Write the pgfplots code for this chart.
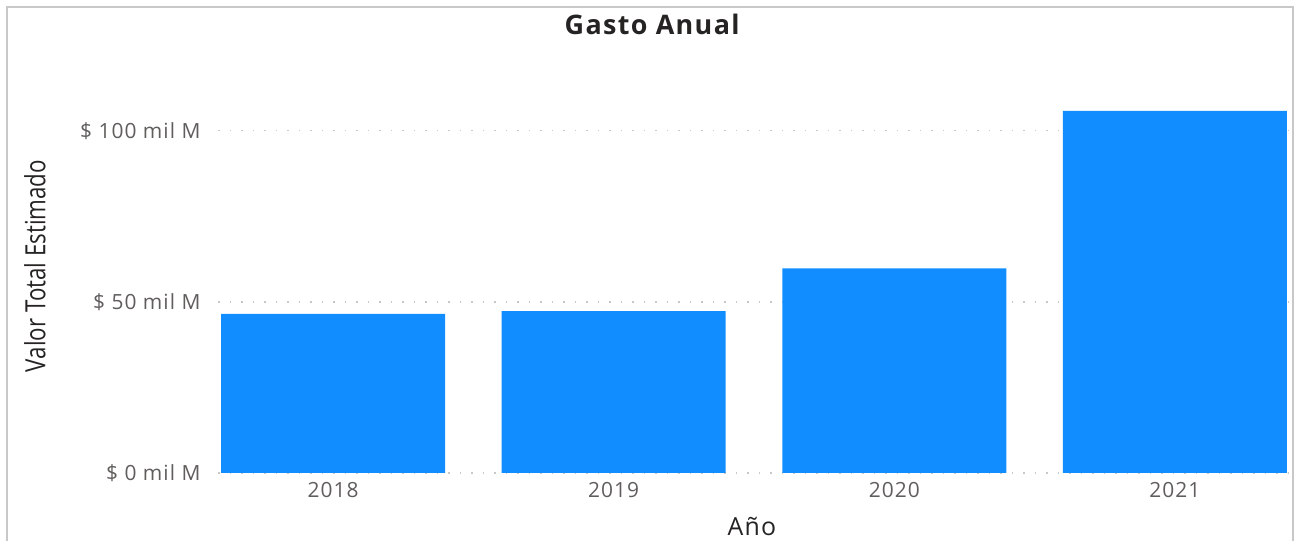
\documentclass[border=0pt]{standalone}
\usepackage{fontspec}
\setmainfont{Open Sans}
\newfontfamily\condfont[FakeStretch=0.8]{Open Sans}
\newfontfamily\widefont[LetterSpace=5]{Open Sans}
\usepackage{pgfplots}
\pgfplotsset{compat=1.18}
\definecolor{barblue}{HTML}{118DFF}
\definecolor{ticktext}{HTML}{605E5C}
\definecolor{titletext}{HTML}{252423}
\definecolor{framegray}{HTML}{C8C8C8}
\definecolor{gridgray}{HTML}{C8C8C8}
\begin{document}
\begin{tikzpicture}
\path[use as bounding box] (0bp,0bp) rectangle (1296bp,541bp);
\draw[framegray, line width=2bp] (7bp,0bp) -- (7bp,534bp) -- (1293bp,534bp) -- (1293bp,0bp);
\begin{axis}[
  at={(218bp,68bp)}, anchor=south west,
  scale only axis, width=1072bp, height=376.5bp,
  xmin=-0.41, xmax=3.41, ymin=0, ymax=110,
  axis line style={draw=none},
  major tick length=0pt,
  xtick={0,1,2,3}, xticklabels={2018,2019,2020,2021},
  ytick={0,50,100}, yticklabels={\$ 0 mil M,\$ 50 mil M,\$ 100 mil M},
  ymajorgrids,
  grid style={gridgray, line width=1.5bp, dash pattern=on 1.5bp off 10bp},
  xticklabel style={font=\widefont\fontsize{21}{25}\selectfont, color=ticktext, yshift=-6bp},
  yticklabel style={font=\widefont\fontsize{21}{25}\selectfont, color=ticktext, xshift=-14bp},
  title={Gasto Anual},
  title style={at={(axis description cs:0.405,1.176)}, anchor=center, font=\bfseries\widefont\fontsize{27}{31}\selectfont, color=titletext},
  xlabel={Año},
  xlabel style={at={(axis description cs:0.498,-0.143)}, anchor=center, font=\widefont\fontsize{25}{29}\selectfont, color=titletext},
  ylabel={Valor Total Estimado},
  ylabel style={at={(axis description cs:-0.1707,0.55)}, anchor=center, rotate=0, font=\condfont\fontsize{28}{32}\selectfont, color=titletext},
  ybar, bar width=0.798,
]
\addplot[fill=barblue, draw=none] coordinates {(0,46.5) (1,47.3) (2,59.8) (3,105.8)};
\end{axis}
\end{tikzpicture}
\end{document}
